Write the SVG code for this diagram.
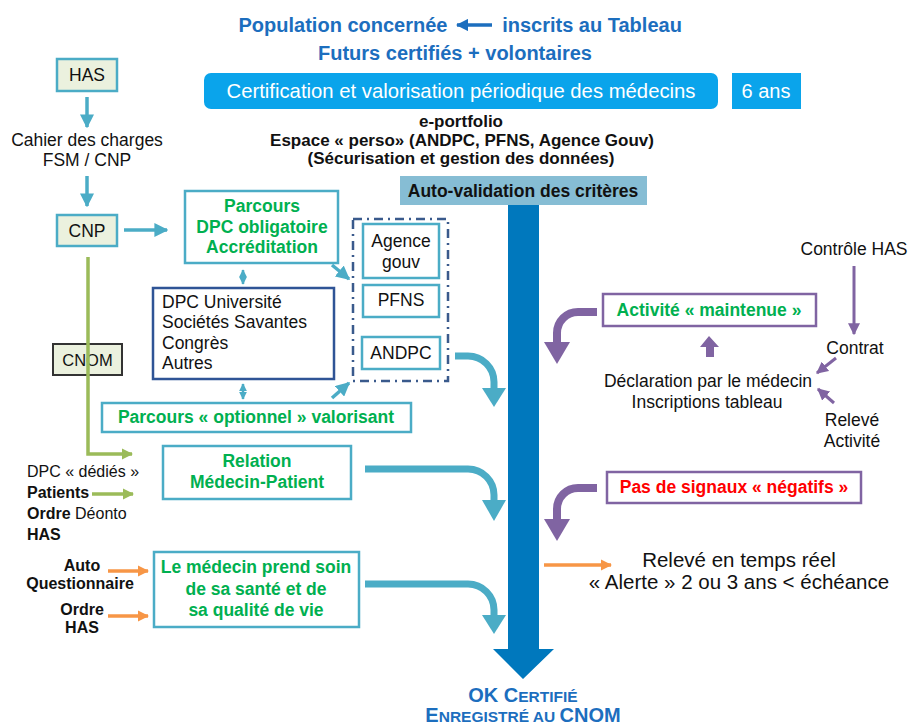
<svg xmlns="http://www.w3.org/2000/svg" width="908" height="727" viewBox="0 0 908 727">
<defs>
<style>
text{font-family:"Liberation Sans",Arial,sans-serif;}
.t{font-size:17.5px;fill:#111;}
.tc{font-size:17.5px;fill:#111;text-anchor:middle;}
.s{font-size:16px;}
.b{font-weight:bold;}
.g{font-size:17.5px;font-weight:bold;fill:#00B050;text-anchor:middle;}
.blue{font-weight:bold;fill:#1C6EBE;text-anchor:middle;}
.box{fill:#fff;stroke:#4BACC6;stroke-width:2.5;}
.lbox{fill:#EBF1DE;stroke:#4BACC6;stroke-width:2.5;}
.pbox{fill:#fff;stroke:#8064A2;stroke-width:2.5;}
.teal{stroke:#4BACC6;stroke-width:3.5;fill:none;}
.tealthin{stroke:#4BACC6;stroke-width:2.5;fill:none;}
.curve{stroke:#4BACC6;stroke-width:7;fill:none;}
.pcurve{stroke:#8064A2;stroke-width:8;fill:none;}
.green{stroke:#9BBB59;stroke-width:3.5;fill:none;}
.orange{stroke:#F79646;stroke-width:3.5;fill:none;}
.purple{stroke:#8064A2;stroke-width:3;fill:none;}
</style>
<marker id="mTeal" viewBox="0 0 10 10" refX="9" refY="5" markerWidth="4" markerHeight="4" orient="auto"><path d="M0,0 L10,5 L0,10 z" fill="#4BACC6"/></marker>
<marker id="mTealS" viewBox="0 0 10 10" refX="9" refY="5" markerWidth="3.2" markerHeight="3.2" orient="auto-start-reverse"><path d="M0,0 L10,5 L0,10 z" fill="#4BACC6"/></marker>
<marker id="mGreen" viewBox="0 0 10 10" refX="9" refY="5" markerWidth="3.2" markerHeight="3.2" orient="auto"><path d="M0,0 L10,5 L0,10 z" fill="#9BBB59"/></marker>
<marker id="mOrange" viewBox="0 0 10 10" refX="9" refY="5" markerWidth="3.2" markerHeight="3.2" orient="auto"><path d="M0,0 L10,5 L0,10 z" fill="#F79646"/></marker>
<marker id="mPurple" viewBox="0 0 10 10" refX="9" refY="5" markerWidth="4" markerHeight="4" orient="auto"><path d="M0,0 L10,5 L0,10 z" fill="#8064A2"/></marker>
<marker id="mBlue" viewBox="0 0 10 10" refX="9" refY="5" markerWidth="3.5" markerHeight="3.5" orient="auto"><path d="M0,0 L10,5 L0,10 z" fill="#1C6EBE"/></marker>
</defs>
<rect width="908" height="727" fill="#fff"/>

<g id="header">
<text class="blue" font-size="20" x="343" y="32">Population concernée</text>
<text class="blue" font-size="20" x="592" y="32">inscrits au Tableau</text>
<text class="blue" font-size="20" x="455" y="60">Futurs certifiés + volontaires</text>
</g>

<g id="certification">
<rect x="204" y="73" width="514" height="36" rx="7" fill="#0AA4EB"/>
<text x="461" y="98" font-size="20.3" fill="#fff" text-anchor="middle">Certification et valorisation périodique des médecins</text>
</g>
<g id="six-ans">
<rect x="732" y="73" width="69" height="36" fill="#0AA4EB"/>
<text x="766" y="98" font-size="20" fill="#fff" text-anchor="middle">6 ans</text>
</g>

<g id="eportfolio">
<text class="tc b" style="font-size:17px" x="461" y="127">e-portfolio</text>
<text class="tc b" style="font-size:17px" x="462" y="145.5">Espace « perso» (ANDPC, PFNS, Agence Gouv)</text>
<text class="tc b" style="font-size:17px" x="461" y="164">(Sécurisation et gestion des données)</text>
</g>

<g id="auto-validation">
<rect x="400" y="176" width="247" height="29" fill="#86BDD4"/>
<text class="tc b" x="523" y="197">Auto-validation des critères</text>
</g>

<g id="main-arrow">
<polygon points="508,205 539,205 539,649 554,649 523,679 493,649 508,649" fill="#0078BD"/>
</g>

<g id="ok-certifie">
<text class="blue" x="523" y="702"><tspan font-size="20">OK C</tspan><tspan font-size="15.5">ERTIFIÉ</tspan></text>
<text class="blue" x="523" y="722"><tspan font-size="20">E</tspan><tspan font-size="15.5">NREGISTRÉ AU </tspan><tspan font-size="20">CNOM</tspan></text>
</g>

<g id="has">
<rect class="lbox" x="57" y="59" width="60" height="32"/>
<text class="tc" x="87" y="81">HAS</text>
</g>
<g id="cahier">
<text class="tc" x="87" y="146">Cahier des charges</text>
<text class="tc" x="87" y="166">FSM / CNP</text>
</g>
<g id="cnp">
<rect class="lbox" x="57" y="215" width="60" height="31"/>
<text class="tc" x="87" y="237">CNP</text>
</g>
<g id="cnom">
<rect x="53" y="344" width="69" height="31" fill="#EBF1DE" stroke="#333" stroke-width="2"/>
<text class="tc" style="font-size:16.5px" x="87.5" y="366">CNOM</text>
</g>

<g id="dpc-dedies">
<text class="t s" x="27" y="477">DPC « dédiés »</text>
<text class="t s b" x="27" y="498">Patients</text>
<text class="t s" x="27" y="519"><tspan font-weight="bold">Ordre</tspan> Déonto</text>
<text class="t s b" x="27" y="540">HAS</text>
</g>
<g id="auto-questionnaire">
<text class="tc s b" x="82" y="571">Auto</text>
<text class="tc s b" x="80" y="589">Questionnaire</text>
<text class="tc s b" x="82" y="615">Ordre</text>
<text class="tc s b" x="82" y="633">HAS</text>
</g>

<g id="parcours-dpc">
<rect class="box" x="185" y="191" width="153" height="72"/>
<text class="g" x="262" y="212">Parcours</text>
<text class="g" x="262" y="233">DPC obligatoire</text>
<text class="g" x="262" y="253">Accréditation</text>
</g>
<g id="dpc-universite">
<rect x="153" y="288" width="181" height="91" fill="#fff" stroke="#2F5496" stroke-width="2.5"/>
<text class="t" x="162" y="308">DPC Université</text>
<text class="t" x="162" y="328">Sociétés Savantes</text>
<text class="t" x="162" y="349">Congrès</text>
<text class="t" x="162" y="369">Autres</text>
</g>
<g id="parcours-optionnel">
<rect class="box" x="102" y="403" width="309" height="29"/>
<text class="g" x="256" y="423">Parcours « optionnel » valorisant</text>
</g>

<g id="organismes">
<rect x="353" y="219" width="95" height="162" fill="none" stroke="#3A5A8C" stroke-width="2.5" stroke-dasharray="9,5,2,5"/>
</g>
<g id="agence-gouv">
<rect class="box" x="363" y="224" width="76" height="54"/>
<text class="tc" x="401" y="247">Agence</text>
<text class="tc" x="401" y="268">gouv</text>
</g>
<g id="pfns">
<rect class="box" x="363" y="285" width="76" height="32"/>
<text class="tc" x="401" y="306">PFNS</text>
</g>
<g id="andpc">
<rect class="box" x="362" y="337" width="78" height="32"/>
<text class="tc" x="401" y="359">ANDPC</text>
</g>

<g id="relation">
<rect class="box" x="163" y="446" width="188" height="53"/>
<text class="g" x="257" y="467">Relation</text>
<text class="g" x="257" y="488">Médecin-Patient</text>
</g>
<g id="sante">
<rect class="box" x="154" y="552" width="205" height="75"/>
<text class="g" x="256" y="573">Le médecin prend soin</text>
<text class="g" x="256" y="595">de sa santé et de</text>
<text class="g" x="256" y="616">sa qualité de vie</text>
</g>

<g id="activite">
<rect class="pbox" x="603" y="294" width="213" height="32"/>
<text class="g" x="709" y="316">Activité « maintenue »</text>
</g>
<g id="controle-has">
<text class="tc" x="854" y="255">Contrôle HAS</text>
</g>
<g id="contrat">
<text class="tc" x="855" y="354">Contrat</text>
</g>
<g id="declaration">
<text class="tc" x="708" y="387">Déclaration par le médecin</text>
<text class="tc" x="707" y="408">Inscriptions tableau</text>
</g>
<g id="releve-activite">
<text class="tc" x="852" y="426">Relevé</text>
<text class="tc" x="852" y="447">Activité</text>
</g>
<g id="signaux">
<rect class="pbox" x="607" y="472" width="254" height="31"/>
<text x="734" y="493" font-size="17.5" font-weight="bold" fill="#FF0000" text-anchor="middle">Pas de signaux « négatifs »</text>
</g>
<g id="releve-temps-reel">
<text class="tc" style="font-size:20.5px" x="739" y="567">Relevé en temps réel</text>
<text class="tc" style="font-size:20.5px" x="739" y="589">« Alerte » 2 ou 3 ans &lt; échéance</text>
</g>

<g id="connectors">
<line x1="492" y1="25" x2="457" y2="25" stroke="#1C6EBE" stroke-width="3.5" marker-end="url(#mBlue)"/>
<line class="teal" x1="87" y1="97" x2="87" y2="127" marker-end="url(#mTeal)"/>
<line class="teal" x1="87" y1="176" x2="87" y2="206" marker-end="url(#mTeal)"/>
<line class="teal" x1="124" y1="230" x2="167" y2="230" marker-end="url(#mTeal)"/>
<line class="tealthin" x1="243" y1="270" x2="243" y2="284" marker-start="url(#mTealS)" marker-end="url(#mTealS)"/>
<line class="tealthin" x1="243" y1="384" x2="243" y2="399" marker-start="url(#mTealS)" marker-end="url(#mTealS)"/>
<line class="teal" x1="332" y1="265" x2="349" y2="279" marker-end="url(#mTeal)"/>
<line class="teal" x1="332" y1="398" x2="349" y2="383" marker-end="url(#mTeal)"/>
<path class="green" d="M88,257 V454 H132" marker-end="url(#mGreen)"/>
<line class="green" x1="92" y1="494" x2="133" y2="494" marker-end="url(#mGreen)"/>
<line class="orange" x1="108" y1="571" x2="148" y2="571" marker-end="url(#mOrange)"/>
<line class="orange" x1="108" y1="616" x2="148" y2="616" marker-end="url(#mOrange)"/>
<path class="curve" d="M455,356 H468 A26,26 0 0 1 494,382 V390"/>
<polygon points="482,388 506,388 494,407" fill="#4BACC6"/>
<path class="curve" d="M365,469 H468 A26,26 0 0 1 494,495 V502"/>
<polygon points="482,500 506,500 494,521" fill="#4BACC6"/>
<path class="curve" d="M365,584 H468 A26,26 0 0 1 494,610 V617"/>
<polygon points="482,615 506,615 494,634" fill="#4BACC6"/>
<path class="pcurve" d="M597,312 H578 A21,21 0 0 0 557,333 V344"/>
<polygon points="544,342 570,342 557,364" fill="#8064A2"/>
<path class="pcurve" d="M597,488 H578 A21,21 0 0 0 557,509 V521"/>
<polygon points="544,519 570,519 557,541" fill="#8064A2"/>
<polygon points="706,357 714,357 714,347 719,347 709,336 700,347 706,347" fill="#8064A2"/>
<line class="purple" x1="854" y1="266" x2="854" y2="334" marker-end="url(#mPurple)"/>
<line class="purple" x1="836" y1="358" x2="817" y2="373" marker-end="url(#mPurple)"/>
<line class="purple" x1="834" y1="403" x2="818" y2="389" marker-end="url(#mPurple)"/>
<line class="orange" x1="544" y1="565" x2="611" y2="565" marker-end="url(#mOrange)"/>
</g>
</svg>
